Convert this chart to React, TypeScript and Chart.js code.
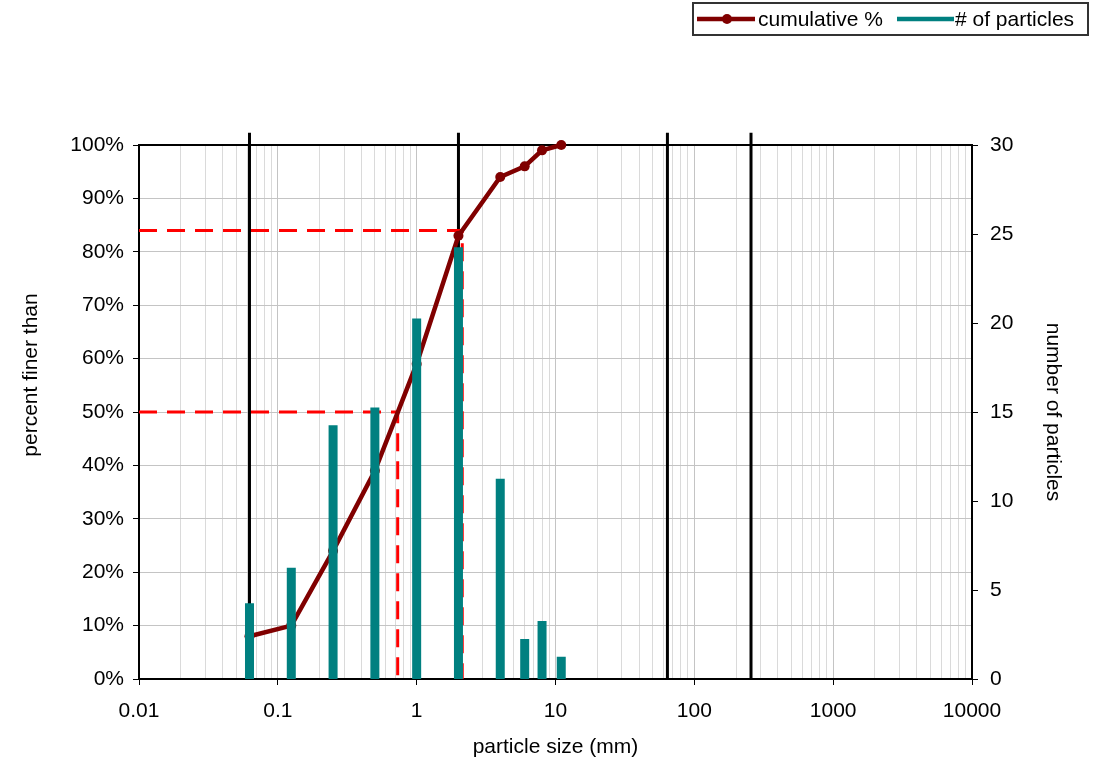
import React, { useEffect, useRef } from 'react';
import { Chart, registerables } from 'chart.js';

Chart.register(...registerables);

// ---- data ----
const particleSizes = [0.0625, 0.125, 0.25, 0.5, 1, 2, 4, 6, 8, 11];
const cumulativePercent = [8, 10, 24, 39, 59, 83, 94, 96, 99, 100];
const particleCounts = [4, 6, 14, 15, 20, 24, 11, 2, 3, 1];
const classBoundaries = [0.0625, 2, 64, 256];
const d50 = 0.73;
const d84 = 2.13;
const xTickLabels = ['0.01', '0.1', '1', '10', '100', '1000', '10000'];
const percentTickLabels = ['0%', '10%', '20%', '30%', '40%', '50%', '60%', '70%', '80%', '90%', '100%'];
const countTickLabels = ['0', '5', '10', '15', '20', '25', '30'];
const seriesLabels = ['cumulative %', '# of particles'];
const xTitle = 'particle size (mm)';
const yTitle = 'percent finer than';
const y1Title = 'number of particles';

const FONT = '"Liberation Sans", Arial, Helvetica, sans-serif';
const FS = 21;
const boundaryTop = 102.3;

const framePlugin = {
  id: 'frame',
  beforeDatasetsDraw(chart: any) {
    const { ctx, chartArea: a } = chart;
    ctx.save();
    ctx.strokeStyle = '#000';
    ctx.lineWidth = 2;
    ctx.strokeRect(a.left, a.top, a.right - a.left, a.bottom - a.top);
    ctx.restore();
  },
  afterDraw(chart: any) {
    const { ctx } = chart;
    ctx.save();
    ctx.fillStyle = '#000';
    ctx.font = `${FS}px ${FONT}`;
    ctx.textAlign = 'center';
    ctx.textBaseline = 'middle';
    ctx.translate(31, 375);
    ctx.rotate(-Math.PI / 2);
    ctx.fillText(yTitle, 0, 0);
    ctx.restore();
  },
};

function isDecade(v: number) {
  const l = Math.log10(v);
  return Math.abs(l - Math.round(l)) < 1e-9;
}

export default function App() {
  const ref = useRef<HTMLCanvasElement | null>(null);

  useEffect(() => {
    document.body.style.margin = '0';
    const canvas = ref.current;
    if (!canvas) return;

    const barData: any[] = [];
    particleSizes.forEach((s, i) => {
      barData.push({ x: s, y: 0 }, { x: s, y: particleCounts[i] }, { x: s, y: null });
    });
    const cumData = particleSizes.map((s, i) => ({ x: s, y: cumulativePercent[i] }));

    const boundarySets = classBoundaries.map((b) => ({
      type: 'line',
      label: 'boundary',
      data: [{ x: b, y: 0 }, { x: b, y: boundaryTop }],
      borderColor: '#000',
      borderWidth: 3,
      pointRadius: 0,
      clip: false,
      order: 3,
      yAxisID: 'y',
    }));

    const chart = new Chart(canvas, {
      type: 'line',
      data: {
        datasets: [
          {
            label: seriesLabels[1],
            data: barData,
            borderColor: '#008080',
            borderWidth: 9,
            borderCapStyle: 'square',
            pointRadius: 0,
            spanGaps: false,
            yAxisID: 'y1',
            order: 0,
          },
          {
            label: seriesLabels[0],
            data: cumData,
            borderColor: '#800000',
            backgroundColor: '#800000',
            borderWidth: 4.5,
            pointRadius: 5,
            pointBorderWidth: 0,
            pointBackgroundColor: '#800000',
            yAxisID: 'y',
            order: 1,
            clip: false,
          },
          {
            label: 'D84',
            data: [{ x: 0.01, y: 84 }, { x: d84, y: 84 }, { x: d84, y: 0 }],
            borderColor: '#ff0000',
            borderWidth: 3,
            borderDash: [18, 10],
            pointRadius: 0,
            yAxisID: 'y',
            order: 2,
          },
          {
            label: 'D50',
            data: [{ x: 0.01, y: 50 }, { x: d50, y: 50 }, { x: d50, y: 0 }],
            borderColor: '#ff0000',
            borderWidth: 3,
            borderDash: [18, 10],
            pointRadius: 0,
            yAxisID: 'y',
            order: 2,
          },
          ...boundarySets,
        ] as any,
      },
      options: {
        responsive: false,
        maintainAspectRatio: false,
        animation: false,
        layout: { padding: { top: 145, left: 0, right: 0, bottom: 0 } },
        plugins: {
          legend: { display: false },
          tooltip: { enabled: false },
          title: { display: false },
        },
        scales: {
          x: {
            type: 'logarithmic',
            min: 0.01,
            max: 10000,
            afterBuildTicks(scale: any) {
              const ticks: any[] = [];
              for (let e = -2; e <= 4; e++) {
                const base = Math.pow(10, e);
                ticks.push({ value: base, major: true });
                if (e < 4) {
                  for (let m = 2; m <= 9; m++) ticks.push({ value: m * base });
                }
              }
              scale.ticks = ticks;
            },
            afterFit(scale: any) {
              scale.height = 82;
            },
            ticks: {
              autoSkip: false,
              maxRotation: 0,
              minRotation: 0,
              padding: 14,
              color: '#000',
              font: { family: FONT, size: FS },
              callback(value: any) {
                const v = Number(value);
                if (!isDecade(v)) return '';
                const idx = Math.round(Math.log10(v)) + 2;
                return xTickLabels[idx] ?? '';
              },
            },
            grid: {
              color: (ctx: any) => (ctx.tick && isDecade(ctx.tick.value) ? '#c4c4c4' : '#dadada'),
              tickColor: (ctx: any) => (ctx.tick && isDecade(ctx.tick.value) ? '#000' : 'rgba(0,0,0,0)'),
              tickLength: 6,
              lineWidth: 1,
            },
            border: { display: false },
            title: {
              display: true,
              text: xTitle,
              color: '#000',
              font: { family: FONT, size: FS },
              padding: { top: 0, bottom: 1 },
            },
          },
          y: {
            type: 'linear',
            position: 'left',
            min: 0,
            max: 100,
            afterFit(scale: any) {
              scale.width = 139;
            },
            ticks: {
              stepSize: 10,
              padding: 9,
              color: '#000',
              font: { family: FONT, size: FS },
              callback(_v: any, i: number) {
                return percentTickLabels[i];
              },
            },
            grid: {
              color: '#c4c4c4',
              tickColor: '#000',
              tickLength: 6,
              lineWidth: 1,
            },
            border: { display: false },
            title: { display: false },
          },
          y1: {
            type: 'linear',
            position: 'right',
            min: 0,
            max: 30,
            afterFit(scale: any) {
              scale.width = 122;
            },
            ticks: {
              stepSize: 5,
              padding: 12,
              color: '#000',
              font: { family: FONT, size: FS },
              callback(_v: any, i: number) {
                return countTickLabels[i];
              },
            },
            grid: {
              drawOnChartArea: false,
              tickColor: '#000',
              tickLength: 6,
            },
            border: { display: false },
            title: {
              display: true,
              text: y1Title,
              color: '#000',
              font: { family: FONT, size: FS },
              padding: { top: 29, bottom: 0 },
            },
          },
        },
      } as any,
      plugins: [framePlugin],
    });

    return () => chart.destroy();
  }, []);

  const legendText: React.CSSProperties = {
    position: 'absolute',
    top: 0,
    height: 30,
    fontFamily: FONT,
    fontSize: FS,
    lineHeight: '30px',
    color: '#000',
    whiteSpace: 'nowrap',
  };

  return (
    <div style={{ position: 'relative', width: 1094, height: 761, background: '#fff' }}>
      <canvas ref={ref} width={1094} height={761} style={{ display: 'block' }} />
      <div
        style={{
          position: 'absolute',
          left: 692,
          top: 2,
          width: 397,
          height: 34,
          border: '2px solid #333',
          boxSizing: 'border-box',
        }}
      >
        <svg width={58} height={14} style={{ position: 'absolute', left: 3, top: 8 }}>
          <line x1={0} y1={7} x2={58} y2={7} stroke="#800000" strokeWidth={4.5} />
          <circle cx={30} cy={7} r={5} fill="#800000" />
        </svg>
        <span style={{ ...legendText, left: 64 }}>{seriesLabels[0]}</span>
        <svg width={57} height={14} style={{ position: 'absolute', left: 203, top: 8 }}>
          <line x1={0} y1={7} x2={57} y2={7} stroke="#008080" strokeWidth={4.5} />
        </svg>
        <span style={{ ...legendText, left: 261 }}>{seriesLabels[1]}</span>
      </div>
    </div>
  );
}
